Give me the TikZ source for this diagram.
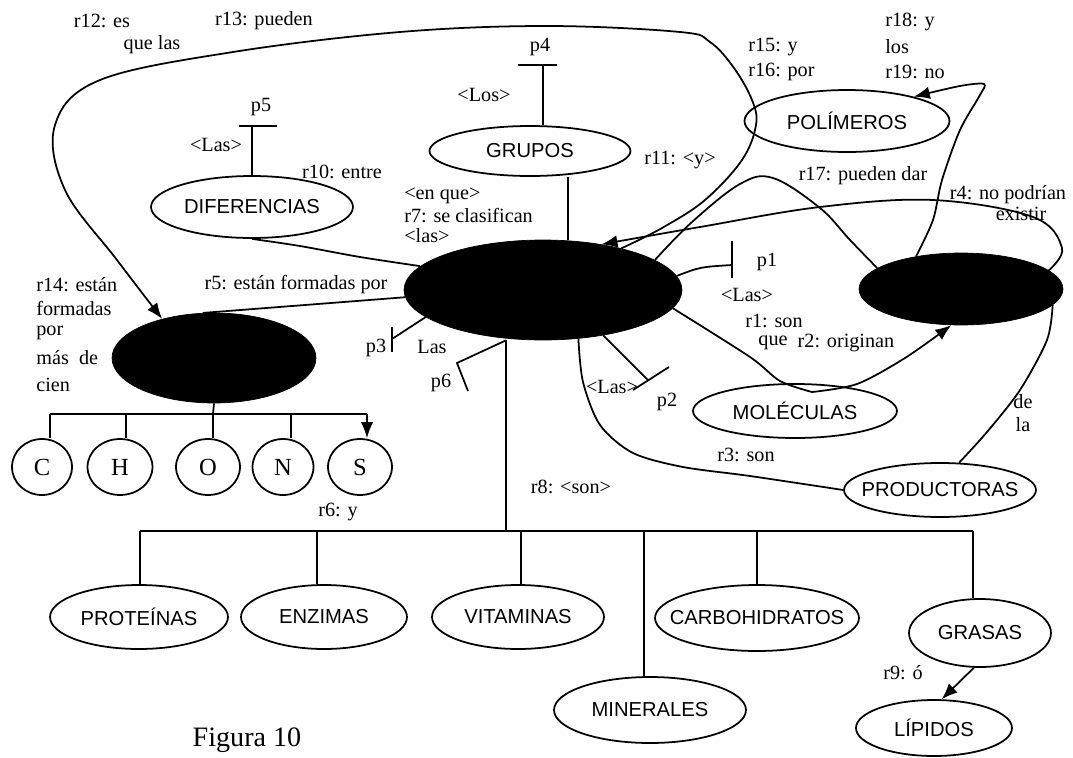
\documentclass[tikz,border=0pt]{standalone}
\usepackage{fontspec}
\setmainfont{Liberation Serif}
\newfontfamily\ellfont{Liberation Sans}
\usetikzlibrary{shapes.geometric,arrows.meta}
\begin{document}
\begin{tikzpicture}[x=0.02cm,y=-0.02cm,
  ell/.style={ellipse, draw, line width=1pt, inner ysep=0pt, inner xsep=-12pt, font=\ellfont\fontsize{11.5}{13}\selectfont},
  blk/.style={ellipse, draw, fill=black, inner sep=0pt},
  elem/.style={ellipse, draw, line width=1pt, inner sep=0pt, minimum height=1.12cm, font=\fontsize{14}{16}\selectfont},
  lab/.style={inner sep=0pt, font=\fontsize{11.5}{13}\selectfont},
  con/.style={line width=1pt},
  arr/.style={con, -{Latex[length=0.32cm,width=0.25cm]}}]
\fill[white] (0,0) rectangle (1073,758);
\useasboundingbox (0,0) rectangle (1073,758);

% black ellipses
\node[blk, minimum width=5.56cm, minimum height=2.00cm] (cen) at (543,290) {};
\node[blk, minimum width=4.08cm, minimum height=1.80cm] (lft) at (214,358) {};
\node[blk, minimum width=4.08cm, minimum height=1.44cm] (rgt) at (961,289) {};

% white ellipses
\node[ell, minimum width=4.04cm, minimum height=1.24cm] (dif) at (252,207) {DIFERENCIAS};
\node[ell, minimum width=4.02cm, minimum height=1.00cm] (gru) at (530,151) {GRUPOS};
\node[ell, minimum width=4.10cm, minimum height=1.24cm] (pol) at (847,121) {POLÍMEROS};
\node[ell, minimum width=4.08cm, minimum height=1.08cm] (mol) at (795,411) {MOLÉCULAS};
\node[ell, minimum width=3.84cm, minimum height=1.08cm] (pro) at (940,490) {PRODUCTORAS};
\node[ell, minimum width=3.56cm, minimum height=1.28cm] (prot) at (139,617) {PROTEÍNAS};
\node[ell, minimum width=3.32cm, minimum height=1.28cm] (enz) at (324,617) {ENZIMAS};
\node[ell, minimum width=3.44cm, minimum height=1.28cm] (vit) at (518,617) {VITAMINAS};
\node[ell, minimum width=3.84cm, minimum height=1.32cm] (min) at (650,710) {MINERALES};
\node[ell, minimum width=4.08cm, minimum height=1.32cm] (car) at (757,618) {CARBOHIDRATOS};
\node[ell, minimum width=2.84cm, minimum height=1.36cm] (gra) at (980,633) {GRASAS};
\node[ell, minimum width=3.12cm, minimum height=1.12cm] (lip) at (934,728) {LÍPIDOS};

\node[elem, minimum width=1.20cm] (C) at (42,467) {C};
\node[elem, minimum width=1.30cm] (H) at (120,467) {H};
\node[elem, minimum width=1.28cm] (O) at (208,467) {O};
\node[elem, minimum width=1.22cm] (N) at (283,467) {N};
\node[elem, minimum width=1.28cm] (S) at (360,467) {S};

% element tree
\coordinate (eC) at (50,414);
\coordinate (eH) at (126,414);
\coordinate (eO) at (213,414);
\coordinate (eN) at (291,414);
\coordinate (eS) at (367,414);
\draw[con] (lft.south) -- (eO);
\draw[con] (eC) -- (eS);
\draw[con] (eC) -- (eC |- C.north);
\draw[con] (eH) -- (eH |- H.north);
\draw[con] (eO) -- (eO |- O.north);
\draw[con] (eN) -- (eN |- N.north);
\draw[arr] (eS) -- (eS |- S.north);

% main tree
\coordinate (bartop) at (506,531);
\coordinate (bP) at (140,531);
\coordinate (bE) at (317,531);
\coordinate (bV) at (521,531);
\coordinate (bM) at (644,531);
\coordinate (bC) at (757,531);
\coordinate (bG) at (973,531);
\draw[con] (cen.south -| bartop) -- (bartop);
\draw[con] (bP) -- (bG);
\draw[con] (bP) -- (bP |- prot.north);
\draw[con] (bE) -- (bE |- enz.north);
\draw[con] (bV) -- (bV |- vit.north);
\draw[con] (bM) -- (bM |- min.north);
\draw[con] (bC) -- (bC |- car.north);
\draw[con] (bG) -- (bG |- gra.north);
\draw[arr] (gra.-100) -- (lip.75);

% connectors around central ellipse
\draw[con] plot[smooth] coordinates {(dif.south) (300,246) (360,257) (cen.169)};
\draw[con] (lft.104) -- (cen.183);
\draw[con] (cen.63) -- (cen.63 |- gru.south);
\draw[arr] plot[smooth, tension=0.6] coordinates {(cen.28) (662,228) (705,200) (742,160) (756,125) (752,100) (734,68) (710,42) (680,32) (547,26) (400,32) (233,52) (100,80) (55,125) (65,190) (117,260) (lft.143)};
\draw[arr] plot[smooth, tension=0.6] coordinates {(rgt.12) (1062,248) (1033,217) (933,200) (820,207) (700,227) (cen.38)};
\draw[con] plot[smooth, tension=0.6] coordinates {(cen.15) (692,222) (740,184) (773,178) (820,208) (850,240) (rgt.166)};
\draw[arr] plot[smooth, tension=0.5] coordinates {(rgt.144) (933,220) (942,180) (960,130) (980,95) (984,84) (960,86) (pol.20)};
\coordinate (mdip) at (812,392);
\draw[con] plot[smooth] coordinates {(cen.-8) (750,357) (780,381) (mdip)};
\draw[arr] plot[smooth] coordinates {(mdip) (857,384) (905,358) (rgt.-105)};
\draw[con] plot[smooth] coordinates {(cen.-54) (583,382) (600,425) (633,453) (683,467) (750,476) (pro.west)};
\draw[con] plot[smooth] coordinates {(rgt.-10) (1047,340) (1020,390) (987,432) (pro.55)};

% p markers
\coordinate (p5) at (252,126);
\draw[con] (dif.north) -- (p5);
\draw[con] (p5) ++(-13,0) -- ++(38,0);
\coordinate (p4) at (543,65);
\draw[con] (gru.north -| p4) -- (p4);
\draw[con] (p4) ++(-25,0) -- ++(39,0);
\coordinate (p3) at (392,339);
\draw[con] (cen.193) -- (p3);
\draw[con] (p3) ++(0,-12) -- ++(0,25);
\coordinate (p6a) at (457,363);
\coordinate (p6b) at (468,391);
\draw[con] (cen.south -| bartop) -- (p6a) -- (p6b);
\coordinate (p2) at (648,380);
\draw[con] (cen.-37) -- (p2);
\draw[con] (p2) ++(-15,10) -- ++(36,-23);
\coordinate (p1) at (732,265);
\draw[con] (cen.6) .. controls (700,267) .. (p1);
\draw[con] (p1) ++(0,-24) -- ++(0,37);

% labels
\node[lab] (l12) at (102,21) {r12: es};
\node[lab] (l12b) at (152,45) {que las};
\node[lab] (l13) at (264,21) {r13: pueden};
\node[lab] (lp5) at (261,107) {p5};
\node[lab] (llas5) at (216,145) {<Las>};
\node[lab] (l10) at (342,172) {r10: entre};
\node[lab] (lp4) at (540,47) {p4};
\node[lab] (llos) at (484,95) {<Los>};
\node[lab] (l11) at (680,160) {r11: <y>};
\node[lab, anchor=west] (lenque) at (404,196) {<en que>};
\node[lab, anchor=west] (l7) at (404,216) {r7: se clasifican};
\node[lab, anchor=west] (llas7) at (404,236) {<las>};
\node[lab, anchor=west] (l15) at (748,47) {r15: y};
\node[lab, anchor=west] (l16) at (748,72) {r16: por};
\node[lab, anchor=west] (l18) at (885,22) {r18: y};
\node[lab, anchor=west] (llos2) at (885,47) {los};
\node[lab, anchor=west] (l19) at (885,72) {r19: no};
\node[lab] (l17) at (863,176) {r17: pueden dar};
\node[lab] (l4) at (1008,195) {r4: no podrían};
\node[lab] (l4b) at (1021,214) {existir};
\node[lab] (l5) at (296,285) {r5: están formadas por};
\node[lab, anchor=west] (l14a) at (36,285) {r14: están};
\node[lab, anchor=west] (l14b) at (36,308) {formadas};
\node[lab, anchor=west] (l14c) at (36,333) {por};
\node[lab, anchor=west] (l14d) at (36,358) {más\ \ de};
\node[lab, anchor=west] (l14e) at (36,385) {cien};
\node[lab] (lp3) at (376,348) {p3};
\node[lab] (llas3) at (432,347) {Las};
\node[lab] (lp6) at (441,383) {p6};
\node[lab] (llas2) at (612,387) {<Las>};
\node[lab] (lp2) at (667,402) {p2};
\node[lab] (lp1) at (767,262) {p1};
\node[lab] (llas1) at (747,295) {<Las>};
\node[lab] (l1) at (774,321) {r1: son};
\node[lab] (lque) at (773,343) {que};
\node[lab] (l2) at (846,343) {r2: originan};
\node[lab] (l3) at (746,455) {r3: son};
\node[lab] (lde) at (1023,402) {de};
\node[lab] (lla) at (1023,425) {la};
\node[lab] (l8) at (571,487) {r8: <son>};
\node[lab] (l6) at (338,512) {r6: y};
\node[lab] (l9) at (903,673) {r9: ó};
\node[inner sep=0pt, font=\fontsize{16}{18}\selectfont] (fig) at (247,740) {Figura 10};
\end{tikzpicture}
\end{document}
